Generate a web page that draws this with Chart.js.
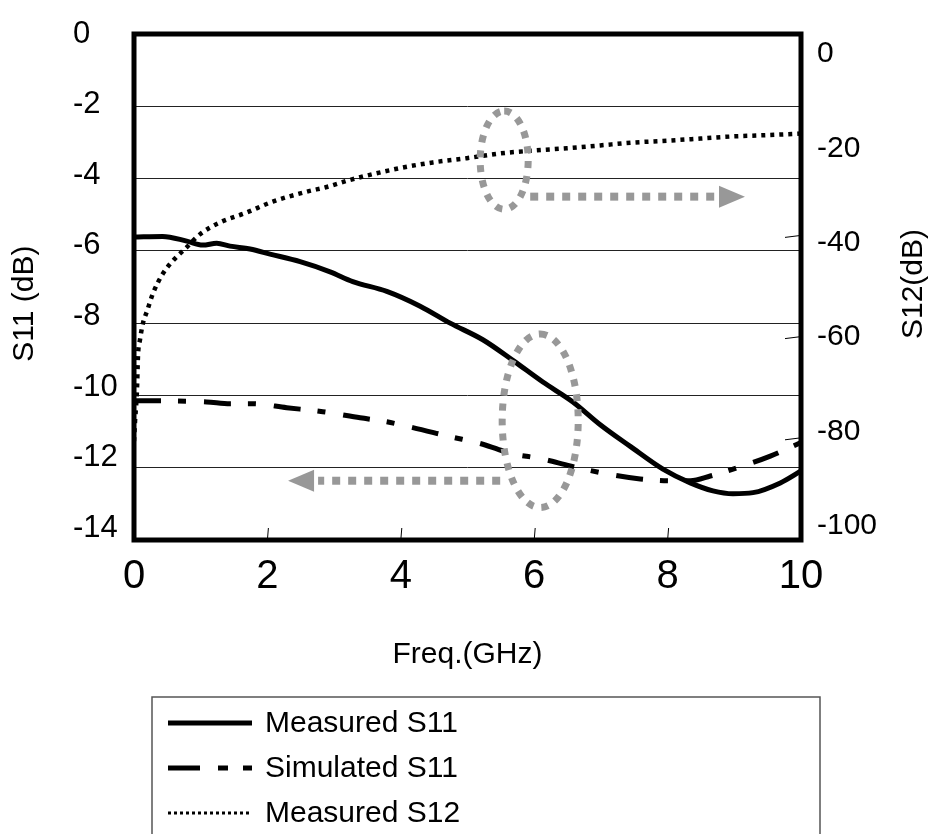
<!DOCTYPE html>
<html>
<head>
<meta charset="utf-8">
<script src="https://cdn.jsdelivr.net/npm/chart.js@4.4.1/dist/chart.umd.min.js"></script>
<style>
html,body{margin:0;padding:0;background:#fff;}
canvas{display:block;}
</style>
</head>
<body>
<canvas id="c" width="934" height="834"></canvas>
<script>
// ---- data ----
const freqS11 = [0,0.43,0.79,1.03,1.24,1.44,1.74,2.04,2.49,2.94,3.28,3.79,4.29,4.74,5.23,5.68,6.13,6.58,6.99,7.44,7.93,8.34,8.68,8.98,9.28,9.69,10];
const measuredS11 = [-5.62,-5.60,-5.73,-5.84,-5.79,-5.87,-5.95,-6.09,-6.30,-6.58,-6.85,-7.12,-7.53,-8.00,-8.46,-9.03,-9.63,-10.18,-10.81,-11.41,-12.04,-12.42,-12.64,-12.72,-12.69,-12.42,-12.09];

const freqSim = [0,0.43,1.09,1.44,1.78,2.29,2.83,3.39,3.79,4.18,4.74,5.23,5.64,6.13,6.54,7.09,7.59,8.08,8.34,8.64,9.13,9.54,10];
const simulatedS11 = [-10.15,-10.15,-10.18,-10.23,-10.23,-10.34,-10.45,-10.62,-10.73,-10.89,-11.14,-11.35,-11.60,-11.76,-11.95,-12.17,-12.31,-12.36,-12.36,-12.23,-11.95,-11.68,-11.30];

const freqS12 = [0,0.015,0.045,0.06,0.09,0.135,0.195,0.285,0.435,0.585,0.795,0.99,1.29,1.69,2.08,2.59,2.89,3.24,3.99,4.48,4.99,5.49,5.98,6.49,6.99,7.48,7.99,8.49,8.98,9.36,10];
const measuredS12 = [-82,-77.9,-71.0,-63.9,-60.5,-57.0,-54.5,-50.7,-46.5,-43.8,-40.9,-38.2,-35.7,-33.6,-31.3,-29.2,-28.2,-26.7,-24.2,-23.0,-22.1,-21.1,-20.5,-20.0,-19.4,-18.8,-18.4,-17.95,-17.5,-17.3,-16.9];

const xTicks = [0,2,4,6,8,10];
const s11Ticks = [0,-2,-4,-6,-8,-10,-12,-14];
const s12Ticks = [0,-20,-40,-60,-80,-100];
const seriesLabels = ['Measured S11','Simulated S11','Measured S12'];
const rightTitle = 'S12(dB)';

// ---- style / annotation settings ----
const FONT = '"Liberation Sans", Arial, Helvetica, sans-serif';
const GRAY = '#989898';
const annotations = {
  ellipses: [{x:5.55, y:-3.49, rx:0.36, ry:1.36}, {x:6.09, y:-10.70, rx:0.57, ry:2.40}],
  arrows: [{from:5.94, to:9.16, y:-4.50}, {from:5.49, to:2.31, y:-12.36}]
};
const legendDash = [[], [32,18,10,15,10,15], [3,3]];
const legendWidth = [5,5,3];

const pts = (xs, ys) => xs.map((x,i)=>({x, y: ys[i]}));
const setTicks = arr => s => { s.ticks = arr.map(v=>({value:v})); };

const decor = {
  id: 'decor',
  afterDatasetsDraw(chart) {
    const {ctx, chartArea: a, scales: {x, y, yT, yR}} = chart;
    ctx.save();
    // small inner tick marks
    ctx.strokeStyle = '#000'; ctx.lineWidth = 1; ctx.setLineDash([]);
    [2,4,6,8].forEach(v => { const px = x.getPixelForValue(v); ctx.beginPath(); ctx.moveTo(px, a.bottom); ctx.lineTo(px+1, a.bottom-12); ctx.stroke(); });
    [-40,-60,-80].forEach(v => { const py = yT.getPixelForValue(v); ctx.beginPath(); ctx.moveTo(a.right-16, py+1); ctx.lineTo(a.right, py-1); ctx.stroke(); });
    // gray ellipses
    ctx.strokeStyle = GRAY; ctx.lineWidth = 7; ctx.setLineDash([7,8]); ctx.lineCap = 'butt';
    annotations.ellipses.forEach(e => {
      const cx = x.getPixelForValue(e.x), cy = y.getPixelForValue(e.y);
      const rx = Math.abs(x.getPixelForValue(e.x+e.rx)-cx), ry = Math.abs(y.getPixelForValue(e.y+e.ry)-cy);
      ctx.beginPath(); ctx.ellipse(cx, cy, rx, ry, 0, -Math.PI/2, 1.5*Math.PI); ctx.stroke();
    });
    // gray arrows
    annotations.arrows.forEach(ar => {
      const x1 = x.getPixelForValue(ar.from), x2 = x.getPixelForValue(ar.to), py = y.getPixelForValue(ar.y);
      const dir = Math.sign(x2 - x1), head = 26;
      ctx.strokeStyle = GRAY; ctx.lineWidth = 8; ctx.setLineDash([8,8]);
      ctx.beginPath(); ctx.moveTo(x1, py); ctx.lineTo(x2 - dir*head - dir*4, py); ctx.stroke();
      ctx.setLineDash([]); ctx.fillStyle = GRAY;
      ctx.beginPath(); ctx.moveTo(x2, py); ctx.lineTo(x2 - dir*head, py-11); ctx.lineTo(x2 - dir*head, py+11); ctx.closePath(); ctx.fill();
    });
    // plot frame
    ctx.setLineDash([]); ctx.strokeStyle = '#000'; ctx.lineWidth = 5;
    ctx.strokeRect(a.left, a.top, a.right - a.left, a.bottom - a.top);
    // right axis title, reading bottom-to-top like the left one
    ctx.save();
    ctx.translate(yR.right - 20, (a.top + a.bottom) / 2 - 3);
    ctx.rotate(-Math.PI / 2);
    ctx.font = '30px ' + FONT; ctx.fillStyle = '#000'; ctx.textAlign = 'center'; ctx.textBaseline = 'middle';
    ctx.fillText(rightTitle, 0, 0);
    ctx.restore();
    ctx.restore();
  },
  afterDraw(chart) {
    const ctx = chart.ctx;
    ctx.save();
    ctx.strokeStyle = '#555'; ctx.lineWidth = 1.5; ctx.setLineDash([]);
    ctx.strokeRect(152, 697, 668, 160);
    ctx.font = '30px ' + FONT; ctx.fillStyle = '#000'; ctx.textBaseline = 'middle'; ctx.textAlign = 'left';
    chart.data.datasets.forEach((ds, i) => {
      const yy = 723 + i*45;
      ctx.strokeStyle = ds.borderColor; ctx.lineWidth = legendWidth[i]; ctx.setLineDash(legendDash[i]); ctx.lineCap = 'butt';
      ctx.beginPath(); ctx.moveTo(168, yy); ctx.lineTo(252, yy); ctx.stroke();
      ctx.setLineDash([]);
      ctx.fillText(ds.label, 265, yy+1);
    });
    ctx.restore();
  }
};

new Chart(document.getElementById('c'), {
  type: 'line',
  data: {
    datasets: [
      {label: seriesLabels[0], data: pts(freqS11, measuredS11), yAxisID: 'y', borderColor: '#000', borderWidth: 5, pointRadius: 0, cubicInterpolationMode: 'monotone', fill: false},
      {label: seriesLabels[1], data: pts(freqSim, simulatedS11), yAxisID: 'y', borderColor: '#000', borderWidth: 5, borderDash: [27,17,8,18], pointRadius: 0, cubicInterpolationMode: 'monotone', fill: false},
      {label: seriesLabels[2], data: pts(freqS12, measuredS12), yAxisID: 'yR', borderColor: '#000', borderWidth: 4.5, borderDash: [4,5], pointRadius: 0, cubicInterpolationMode: 'monotone', fill: false}
    ]
  },
  options: {
    responsive: false,
    animation: false,
    layout: {padding: {top: 27, bottom: 161, left: 0, right: 0}},
    plugins: {legend: {display: false}, tooltip: {enabled: false}},
    scales: {
      x: {
        type: 'linear', position: 'bottom', min: 0, max: 10,
        afterBuildTicks: setTicks(xTicks),
        afterFit: s => { s.height = 133; },
        grid: {display: false, drawTicks: false}, border: {display: false},
        ticks: {font: {family: FONT, size: 40}, color: '#000', padding: 13, maxRotation: 0, autoSkip: false},
        title: {display: true, text: 'Freq.(GHz)', font: {family: FONT, size: 30}, color: '#000', padding: {top: 0, bottom: 0}}
      },
      y: {
        position: 'left', min: -14, max: 0, weight: 1,
        afterBuildTicks: setTicks(s11Ticks),
        afterFit: s => { s.width = 73; },
        grid: {color: '#222', lineWidth: 1, drawTicks: false}, border: {display: false},
        ticks: {display: false},
        title: {display: true, text: 'S11 (dB)\u00a0\u00a0\u00a0\u00a0', font: {family: FONT, size: 30}, color: '#000', padding: {top: 7, bottom: 0}}
      },
      yL: {
        position: 'left', min: -14.33, max: 0, weight: 0,
        afterBuildTicks: setTicks(s11Ticks),
        afterFit: s => { s.width = 61; },
        grid: {display: false, drawTicks: false}, border: {display: false},
        ticks: {font: {family: FONT, size: 31}, color: '#000', crossAlign: 'far', autoSkip: false}
      },
      yR: {
        position: 'right', min: -102.92, max: 4.18,
        afterBuildTicks: setTicks(s12Ticks),
        afterFit: s => { s.width = 133; },
        grid: {display: false, drawTicks: false}, border: {display: false},
        ticks: {font: {family: FONT, size: 30}, color: '#000', padding: 16, crossAlign: 'near', autoSkip: false}
      },
      yT: {display: false, position: 'right', min: -100, max: 0}
    }
  },
  plugins: [decor]
});
</script>
</body>
</html>
